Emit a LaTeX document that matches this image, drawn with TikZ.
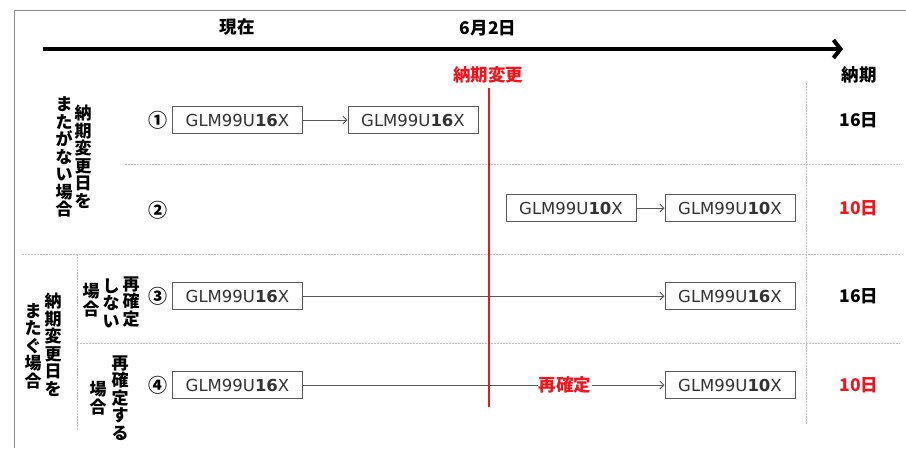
\documentclass[tikz,border=0pt]{standalone}
\usepackage{fontspec}
\setmainfont{DejaVu Sans}
\newfontfamily\jp{Noto Sans CJK JP}
\usetikzlibrary{arrows.meta}
\definecolor{boxgray}{HTML}{595959}
\definecolor{sepgray}{HTML}{C4C4C4}
\definecolor{framegray}{HTML}{8C8C8C}
\definecolor{txtgray}{HTML}{333333}
\definecolor{dlred}{RGB}{240,22,30}
\begin{document}
\begin{tikzpicture}[x=1pt,y=-1pt,
  gbox/.style={draw=boxgray, line width=1pt, fill=white, minimum width=130pt, minimum height=27pt, inner sep=0pt, text=txtgray, font=\fontsize{16.5}{18}\selectfont},
  lab/.style={font=\jp\bfseries\fontsize{17.5}{19}\selectfont, inner sep=0pt},
  vlab/.style={font=\jp\bfseries\fontsize{17}{17.5}\selectfont, align=center, inner sep=0pt},
  num/.style={font=\jp\bfseries\fontsize{19}{20}\selectfont, inner sep=0pt},
  sep/.style={draw=sepgray, line width=0.8pt, dash pattern=on 2pt off 1pt},
  conn/.style={draw=boxgray, line width=0.9pt, -{Straight Barb[length=4pt,width=8pt]}}]
\useasboundingbox (0,0) rectangle (906,448);
% frame
\coordinate (f0) at (14,448); \coordinate (f1) at (14,10); \coordinate (f2) at (906,10);
\draw[framegray, line width=1pt] (f0) -- (f1) -- (f2);
% time axis
\node[lab] (now) at (237,27) {現在};
\node[lab] (date) at (488,28) {6月2日};
\coordinate (tl) at (43,49); \coordinate (tr) at (843,49);
\draw[line width=4pt, -{Straight Barb[length=7pt,width=18pt]}] (tl) -- (tr);
\node[lab, text=dlred] (chg) at (488,75) {納期変更};
\node[lab] (nk) at (859,75) {納期};
% separators
\coordinate (v1a) at (806,83); \coordinate (v1b) at (806,424);
\draw[sep] (v1a) -- (v1b);
\coordinate (h1a) at (125,164); \coordinate (h1b) at (900,164);
\coordinate (h2a) at (22,254); \coordinate (h2b) at (900,254);
\coordinate (h3a) at (77,343); \coordinate (h3b) at (900,343);
\coordinate (v2a) at (77,254); \coordinate (v2b) at (77,431);
\draw[sep] (h1a) -- (h1b);
\draw[sep] (h2a) -- (h2b);
\draw[sep] (h3a) -- (h3b);
\draw[sep] (v2a) -- (v2b);
% boxes
\node[gbox] (b1) at (237.5,120) {GLM99U\textbf{16}X};
\node[gbox] (b2) at (413,120) {GLM99U\textbf{16}X};
\node[gbox] (b3) at (571,208) {GLM99U\textbf{10}X};
\node[gbox] (b4) at (730,208) {GLM99U\textbf{10}X};
\node[gbox] (b5) at (237.5,296) {GLM99U\textbf{16}X};
\node[gbox] (b6) at (730,296) {GLM99U\textbf{16}X};
\node[gbox] (b7) at (237.5,385) {GLM99U\textbf{16}X};
\node[gbox] (b8) at (730,385) {GLM99U\textbf{10}X};
\draw[conn] (b1) -- (b2);
\draw[conn] (b3) -- (b4);
\draw[conn] (b5) -- (b6);
\draw[conn] (b7) -- node[pos=0.725, fill=white, inner sep=1pt, font=\jp\bfseries\fontsize{17.5}{19}\selectfont, text=dlred] (rk) {再確定} (b8);
% red line
\coordinate (r1) at (489,88); \coordinate (r2) at (489,407);
\draw[dlred, line width=2.4pt] (r1) -- (r2);
% numbers
\node[num] (n1) at (158,120) {①};
\node[num] (n2) at (158,210) {②};
\node[num] (n3) at (158,296) {③};
\node[num] (n4) at (158,385) {④};
% days
\node[lab] (d1) at (859,120) {16日};
\node[lab, text=dlred] (d2) at (859,208) {10日};
\node[lab] (d3) at (859,296) {16日};
\node[lab, text=dlred] (d4) at (859,385) {10日};
% vertical labels
\node[vlab] (ta) at (83,157) {納\\期\\変\\更\\日\\を};
\node[vlab] (tb) at (64,157) {ま\\た\\が\\な\\い\\場\\合};
\node[vlab] (ba) at (53,345) {納\\期\\変\\更\\日\\を};
\node[vlab] (bb) at (33,346) {ま\\た\\ぐ\\場\\合};
\node[vlab] (sa) at (131,302) {再\\確\\定};
\node[vlab] (sb) at (111,303) {し\\な\\い};
\node[vlab] (sc) at (91,300) {場\\合};
\node[vlab] (ua) at (120,398) {再\\確\\定\\す\\る};
\node[vlab] (ub) at (98,398) {場\\合};
\end{tikzpicture}
\end{document}
